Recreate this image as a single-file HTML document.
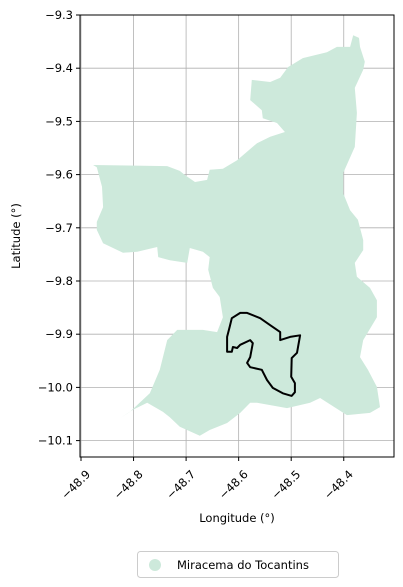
<!DOCTYPE html>
<html><head><meta charset="utf-8"><style>
body{margin:0;background:#fff;width:403px;height:587px;overflow:hidden}
svg{display:block;font-family:"DejaVu Sans","Liberation Sans",sans-serif}
</style></head><body>
<svg id="chart" width="403" height="587">
<rect x="0" y="0" width="403" height="587" fill="#fff"/>
<g id="grid"></g>
<g id="shapes"></g>
<rect x="80" y="15" width="314" height="442" fill="none" stroke="#000" stroke-width="1"/>
<g id="ticks"></g>
<text x="237" y="522" font-size="11.5" text-anchor="middle">Longitude (°)</text>
<text x="20" y="236" font-size="11.5" text-anchor="middle" transform="rotate(-90 20 236)">Latitude (°)</text>
<g>
<rect x="137.5" y="551.5" width="201" height="26" rx="3" fill="#fff" stroke="#ccc"/>
<circle cx="155" cy="565" r="6" fill="#cde9db"/>
<text x="177" y="569" font-size="11.5">Miracema do Tocantins</text>
</g>
</svg>
<script>
const xTicks=[-48.9,-48.8,-48.7,-48.6,-48.5,-48.4];
const yTicks=[-9.3,-9.4,-9.5,-9.6,-9.7,-9.8,-9.9,-10.0,-10.1];
const yTickLabels=["−9.3","−9.4","−9.5","−9.6","−9.7","−9.8","−9.9","−10.0","−10.1"];
const xTickLabels=["−48.9","−48.8","−48.7","−48.6","−48.5","−48.4"];
const regionLon=[-48.382,-48.371,-48.369,-48.360,-48.363,-48.379,-48.375,-48.379,-48.401,-48.401,-48.388,-48.373,-48.363,-48.363,-48.379,-48.375,-48.350,-48.337,-48.337,-48.363,-48.369,-48.354,-48.337,-48.331,-48.350,-48.394,-48.445,-48.464,-48.508,-48.565,-48.578,-48.597,-48.622,-48.655,-48.674,-48.712,-48.731,-48.744,-48.774,-48.801,-48.826,-48.807,-48.769,-48.750,-48.736,-48.717,-48.668,-48.641,-48.630,-48.636,-48.649,-48.658,-48.655,-48.668,-48.693,-48.698,-48.731,-48.753,-48.755,-48.793,-48.820,-48.858,-48.870,-48.870,-48.858,-48.860,-48.870,-48.877,-48.736,-48.712,-48.702,-48.683,-48.660,-48.655,-48.630,-48.603,-48.565,-48.540,-48.512,-48.527,-48.554,-48.556,-48.578,-48.575,-48.540,-48.521,-48.506,-48.478,-48.432,-48.413,-48.388];
const regionLat=[-9.338,-9.343,-9.360,-9.388,-9.403,-9.437,-9.484,-9.548,-9.597,-9.635,-9.667,-9.685,-9.723,-9.742,-9.766,-9.792,-9.813,-9.836,-9.868,-9.911,-9.943,-9.967,-9.999,-10.037,-10.048,-10.052,-10.020,-10.029,-10.039,-10.029,-10.029,-10.048,-10.067,-10.080,-10.091,-10.074,-10.056,-10.046,-10.029,-10.042,-10.058,-10.046,-10.011,-9.967,-9.911,-9.892,-9.892,-9.896,-9.868,-9.830,-9.813,-9.779,-9.755,-9.745,-9.738,-9.766,-9.761,-9.755,-9.736,-9.745,-9.747,-9.729,-9.704,-9.689,-9.661,-9.623,-9.586,-9.582,-9.584,-9.593,-9.601,-9.614,-9.610,-9.591,-9.589,-9.573,-9.541,-9.529,-9.520,-9.503,-9.494,-9.479,-9.460,-9.422,-9.426,-9.418,-9.398,-9.381,-9.370,-9.360,-9.360];
const cityLon=[-48.613,-48.597,-48.584,-48.559,-48.540,-48.521,-48.521,-48.502,-48.483,-48.489,-48.499,-48.500,-48.493,-48.493,-48.499,-48.516,-48.535,-48.546,-48.556,-48.578,-48.584,-48.578,-48.573,-48.578,-48.597,-48.603,-48.611,-48.613,-48.622,-48.622,-48.617];
const cityLat=[-9.870,-9.860,-9.860,-9.870,-9.883,-9.896,-9.911,-9.905,-9.902,-9.935,-9.945,-9.980,-9.992,-10.009,-10.016,-10.011,-10.001,-9.986,-9.967,-9.962,-9.954,-9.943,-9.917,-9.911,-9.920,-9.926,-9.924,-9.933,-9.933,-9.905,-9.886];
const X=v=>81+(v+48.9)*525.5;
const Y=v=>15+(-9.3-v)*532;
const NS="http://www.w3.org/2000/svg";
const grid=document.getElementById('grid'),ticks=document.getElementById('ticks'),shapes=document.getElementById('shapes');
function mk(tag,attrs,parent){const e=document.createElementNS(NS,tag);for(const k in attrs)e.setAttribute(k,attrs[k]);parent.appendChild(e);return e;}
xTicks.forEach((t,i)=>{const x=X(t);
const g=mk('line',{x1:x,x2:x,y1:15,y2:457,stroke:'#b0b0b0','stroke-width':0.8},grid);


const tk=mk('line',{x1:x,x2:x,y1:457,y2:461,stroke:'#000'},ticks);


const ax=x+10,ay=475;
const tx=mk('text',{x:ax,y:ay,'font-size':11.5,'text-anchor':'end',transform:`rotate(-45 ${ax} ${ay})`},ticks);
tx.textContent=xTickLabels[i];

});
yTicks.forEach((t,i)=>{const y=Y(t);
const g=mk('line',{x1:80,x2:394,y1:y,y2:y,stroke:'#b0b0b0','stroke-width':0.8},grid);


const tk=mk('line',{x1:76,x2:80,y1:y,y2:y,stroke:'#000'},ticks);


const tx=mk('text',{x:73,y:y+4,'font-size':11.5,'text-anchor':'end'},ticks);
tx.textContent=yTickLabels[i];

});
const rp=regionLon.map((v,i)=>X(v).toFixed(1)+','+Y(regionLat[i]).toFixed(1)).join(' ');
const region=mk('polygon',{points:rp,fill:'#cde9db',stroke:'none'},shapes);


const cp=cityLon.map((v,i)=>X(v).toFixed(1)+','+Y(cityLat[i]).toFixed(1)).join(' ');
const city=mk('polygon',{points:cp,fill:'none',stroke:'#000','stroke-width':2,'stroke-linejoin':'round'},shapes);


</script>
</body></html>
